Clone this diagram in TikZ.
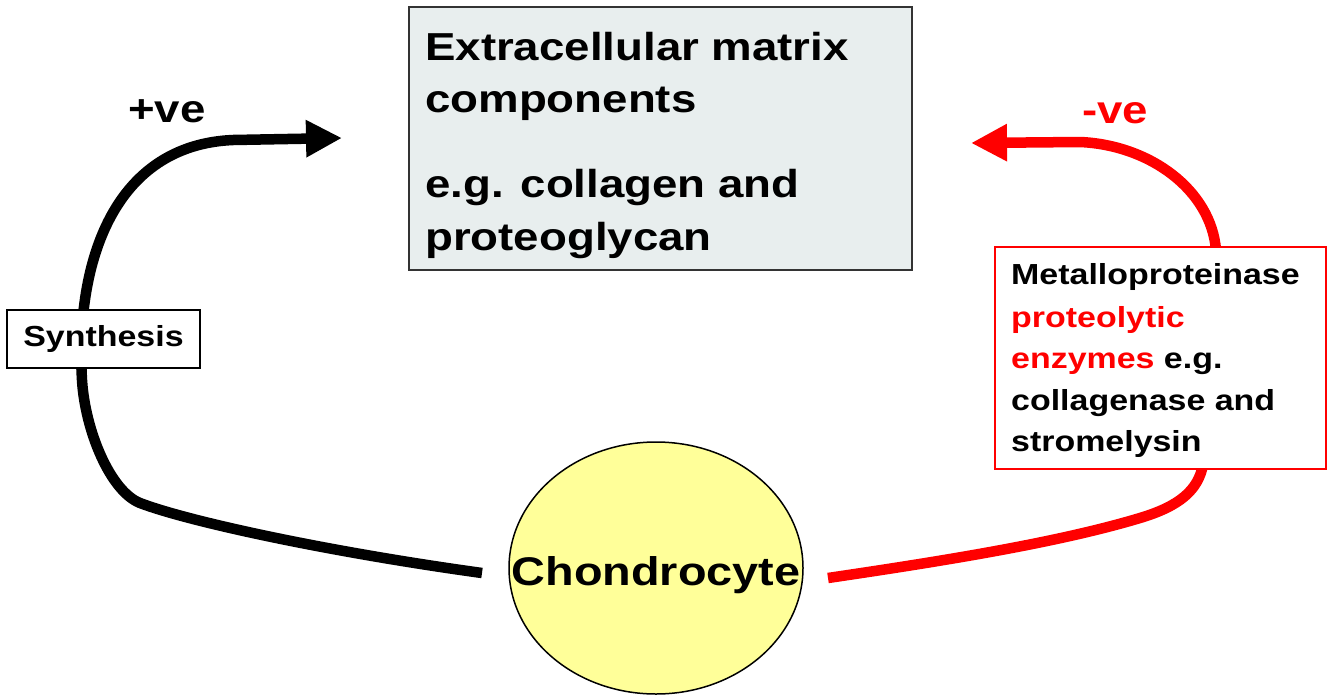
\documentclass[tikz,border=0pt]{standalone}
\usepackage{fontspec}
\setmainfont[FakeStretch=1.17]{Liberation Sans}
\usetikzlibrary{arrows.meta,shapes.geometric}
\definecolor{ecmfill}{HTML}{E8EEEE}
\definecolor{chonfill}{HTML}{FFFF99}
\definecolor{pred}{HTML}{FF0000}
\tikzset{
  bigtxt/.style={anchor=base west, inner sep=0pt, font=\bfseries\fontsize{39}{39}\selectfont},
  smalltxt/.style={anchor=base west, inner sep=0pt, font=\bfseries\fontsize{29}{29}\selectfont},
  ecmbox/.style={draw=black!80, line width=2pt, fill=ecmfill, rectangle, minimum width=503pt, minimum height=263pt, inner sep=0pt},
  redbox/.style={draw=pred, line width=2pt, fill=white, rectangle, minimum width=331pt, minimum height=222pt, inner sep=0pt},
  synbox/.style={draw=black, line width=1.5pt, fill=white, rectangle, minimum width=193pt, minimum height=58pt, inner sep=0pt, font=\bfseries\fontsize{29}{29}\selectfont, text height=21pt, text depth=6pt},
  cellnode/.style={draw=black, line width=1.5pt, fill=chonfill, ellipse, minimum width=294pt, minimum height=252pt, inner sep=0pt},
  celltxt/.style={anchor=base, inner sep=0pt, font=\bfseries\fontsize{40}{40}\selectfont},
  blackflow/.style={draw=black, line width=10.5pt, -{Triangle[length=36pt, width=35pt]}},
  redflow/.style={draw=pred, line width=10.5pt, -{Triangle[length=36pt, width=35pt]}}
}
\begin{document}
\begin{tikzpicture}[x=1pt, y=-1pt]
\useasboundingbox (0,0) rectangle (1334,694);
% free ends of the connectors
\coordinate (bs) at (482,573);
\coordinate (bt) at (342,138);
\coordinate (rs) at (828,578);
\coordinate (rt) at (971,143);
% connectors
\draw[blackflow] (bs) .. controls (330,552) and (190,522) .. (140,503)
  .. controls (110,491) and (85,430) .. (82,380)
  .. controls (75,260) and (115,145) .. (233,140) -- (bt);
\draw[redflow] (rs) .. controls (950,560) and (1060,542) .. (1140,518)
  .. controls (1180,506) and (1198,490) .. (1203,465)
  .. controls (1210,420) and (1220,300) .. (1216,250)
  .. controls (1211,190) and (1150,145) .. (1080,142) -- (rt);
% extracellular matrix box
\node[ecmbox] (ecm) at (660.5,138.5) {};
\node[bigtxt] (ecm1) at (425,60) {Extracellular matrix};
\node[bigtxt] (ecm2) at (425,112) {components};
\node[bigtxt] (ecm3) at (425,197) {e.g. collagen and};
\node[bigtxt] (ecm4) at (425,250) {proteoglycan};
% chondrocyte
\node[cellnode] (chon) at (656,568) {};
\node[celltxt] (chonlbl) at (656,585) {Chondrocyte};
% synthesis label
\node[synbox] (syn) at (103.5,339) {Synthesis};
% enzymes box
\node[redbox] (enz) at (1160.5,358) {};
\node[smalltxt] (enz1) at (1011,284) {Metalloproteinase};
\node[smalltxt, text=pred] (enz2) at (1011,327) {proteolytic};
\node[smalltxt] (enz3) at (1011,368) {\textcolor{pred}{enzymes} e.g.};
\node[smalltxt] (enz4) at (1011,410) {collagenase and};
\node[smalltxt] (enz5) at (1011,451) {stromelysin};
% signs
\node[bigtxt] (pos) at (128,122) {+ve};
\node[bigtxt, text=pred] (neg) at (1082,123) {-ve};
\end{tikzpicture}
\end{document}
